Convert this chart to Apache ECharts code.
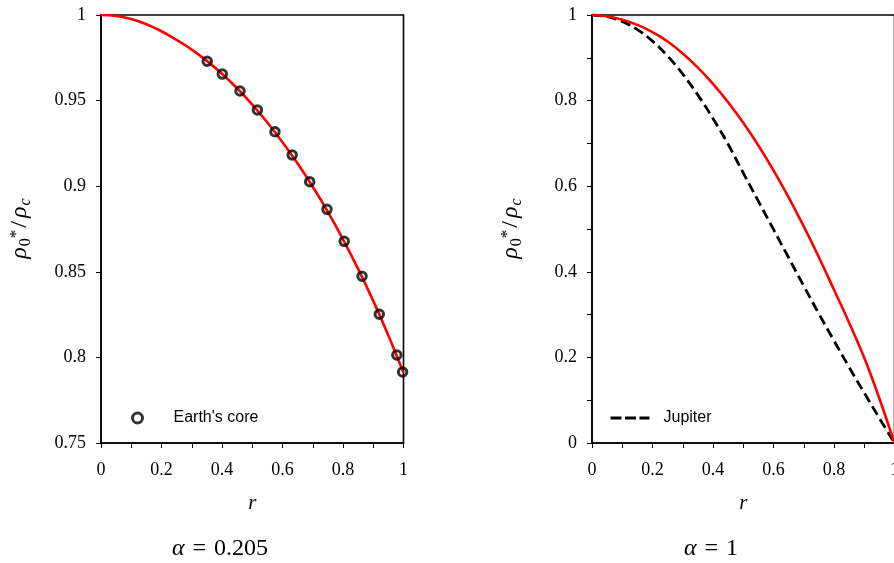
<!DOCTYPE html>
<html>
<head>
<meta charset="utf-8">
<script src="https://cdn.jsdelivr.net/npm/echarts@6/dist/echarts.min.js"></script>
<style>
html,body{margin:0;padding:0;background:#fff;}
#chart{width:894px;height:563px;}
</style>
</head>
<body>
<div id="chart"></div>
<script>
// ---- data ----
const rGrid = [0,0.05,0.1,0.15,0.2,0.25,0.3,0.35,0.4,0.45,0.5,0.55,0.6,0.65,0.7,0.75,0.8,0.85,0.9,0.95,1];
const earthModel = [1.000,0.9994,0.9976,0.9946,0.9905,0.9854,0.9798,0.9732,0.9657,0.9572,0.9477,0.9372,0.9257,0.9132,0.8997,0.8850,0.8690,0.8517,0.8330,0.8128,0.7910];
const earthCoreR = [0.351,0.401,0.4595,0.517,0.575,0.632,0.690,0.747,0.804,0.863,0.920,0.978,0.997];
const earthCoreV = [0.973,0.9655,0.9556,0.9445,0.9318,0.9182,0.9026,0.8865,0.8678,0.8474,0.8252,0.8014,0.7915];
const alphaOneModel = [1.000,0.997,0.989,0.977,0.960,0.938,0.910,0.877,0.839,0.796,0.748,0.695,0.637,0.574,0.506,0.434,0.358,0.281,0.199,0.104,0.000];
const jupiter = [1.000,0.996,0.985,0.966,0.939,0.904,0.862,0.813,0.758,0.698,0.631,0.565,0.499,0.433,0.367,0.302,0.239,0.177,0.117,0.058,0.000];
const xTicksInterval = 0.2;
const leftYRange = [0.75, 1, 0.05];
const rightYRange = [0, 1, 0.2];
const captions = ['0.205', '1'];

const pairs = (xs, ys) => xs.map((x, i) => [x, ys[i]]);

const serif = 'Liberation Serif';
const sans = 'Liberation Sans';

function xAxis(gi) {
  return {
    gridIndex: gi, type: 'value', min: 0, max: 1, interval: xTicksInterval,
    axisLine: {show: true, onZero: false, lineStyle: {color: '#000', width: 1.6}},
    axisTick: {show: true, inside: false, length: 5, lineStyle: {color: '#000', width: 1}},
    minorTick: {show: true, splitNumber: 2, length: 5, lineStyle: {color: '#000', width: 1}},
    splitLine: {show: false}, minorSplitLine: {show: false},
    axisLabel: {fontFamily: serif, fontSize: 18, color: '#000', margin: 18},
    name: 'r', nameLocation: 'middle', nameGap: 50,
    nameTextStyle: {fontFamily: serif, fontStyle: 'italic', fontSize: 21, color: '#000'}
  };
}
const yName = '{r|ρ}{s|0}{p|*}{n|/}{r|ρ}{c|c}';
const yRich = {
  r: {fontFamily: serif, fontStyle: 'italic', fontSize: 24, color: '#000', lineHeight: 34, verticalAlign: 'middle', padding: [0, 1, 0, 1]},
  n: {fontFamily: serif, fontSize: 24, color: '#000', lineHeight: 34, verticalAlign: 'middle', padding: [0, 2, 0, 2]},
  s: {fontFamily: serif, fontSize: 16, color: '#000', lineHeight: 34, verticalAlign: 'bottom', padding: [0, 0, 3, 0]},
  c: {fontFamily: serif, fontStyle: 'italic', fontSize: 16, color: '#000', lineHeight: 34, verticalAlign: 'bottom', padding: [0, 0, 3, 0]},
  p: {fontFamily: serif, fontSize: 17, color: '#000', lineHeight: 34, verticalAlign: 'top', padding: [5, 0, 0, 0]}
};
function yAxis(gi, range, minor) {
  return {
    gridIndex: gi, type: 'value', min: range[0], max: range[1], interval: range[2],
    axisLine: {show: true, onZero: false, lineStyle: {color: '#000', width: 1.6}},
    axisTick: {show: true, inside: false, length: 5, lineStyle: {color: '#000', width: 1}},
    minorTick: {show: minor, splitNumber: 2, length: 5, lineStyle: {color: '#000', width: 1}},
    splitLine: {show: false}, minorSplitLine: {show: false},
    axisLabel: {fontFamily: serif, fontSize: 18, color: '#000', margin: 15},
    name: yName, nameLocation: 'middle', nameRotate: 90, nameGap: 64,
    nameTextStyle: {rich: yRich}
  };
}

const chart = echarts.init(document.getElementById('chart'), null, {renderer: 'canvas'});
chart.setOption({
  animation: false,
  backgroundColor: '#fff',
  grid: [
    {left: 101, top: 15, width: 302.5, height: 428, show: true, borderColor: '#000', borderWidth: 1.6, containLabel: false, outerBoundsMode: 'none'},
    {left: 592, top: 15, width: 302.5, height: 428, show: true, borderColor: '#000', borderWidth: 1.6, containLabel: false, outerBoundsMode: 'none'}
  ],
  xAxis: [xAxis(0), xAxis(1)],
  yAxis: [yAxis(0, leftYRange, false), yAxis(1, rightYRange, true)],
  legend: [
    {
      data: ["Earth's core"], left: 131, top: 410, padding: 0, itemWidth: 10, itemHeight: 10,
      itemStyle: {color: 'rgba(255,255,255,0)', borderColor: '#000', borderWidth: 3},
      textStyle: {fontFamily: sans, fontSize: 16, color: '#000', padding: [0, 0, 0, 26]}
    },
    {
      data: ['Jupiter'], left: 609, top: 410, padding: 0, itemWidth: 39, itemHeight: 14,
      itemStyle: {color: 'rgba(0,0,0,0)', borderWidth: 0, opacity: 0},
      lineStyle: {color: '#000', width: 3, type: [11, 3.5], opacity: 1},
      textStyle: {fontFamily: sans, fontSize: 16, color: '#000', padding: [0, 0, 0, 9]}
    }
  ],
  series: [
    {
      name: 'model α=0.205', type: 'line', xAxisIndex: 0, yAxisIndex: 0,
      data: pairs(rGrid, earthModel), smooth: 0.4, showSymbol: false, symbol: 'none',
      lineStyle: {color: '#ff0000', width: 2.6}, z: 2
    },
    {
      name: "Earth's core", type: 'scatter', xAxisIndex: 0, yAxisIndex: 0,
      data: pairs(earthCoreR, earthCoreV), symbol: 'circle', symbolSize: 8.5,
      itemStyle: {color: 'rgba(255,255,255,0)', borderColor: '#000', borderWidth: 3}, z: 3
    },
    {
      name: 'Jupiter', type: 'line', xAxisIndex: 1, yAxisIndex: 1,
      data: pairs(rGrid, jupiter), smooth: 0.4, showSymbol: false, symbol: 'none',
      itemStyle: {color: '#000'},
      lineStyle: {color: '#000', width: 2.8, type: [10, 5]}, z: 2
    },
    {
      name: 'model α=1', type: 'line', xAxisIndex: 1, yAxisIndex: 1,
      data: pairs(rGrid, alphaOneModel), smooth: 0.4, showSymbol: false, symbol: 'none',
      lineStyle: {color: '#ff0000', width: 2.6}, z: 3
    }
  ],
  graphic: captions.map((c, i) => ({
    type: 'text', x: i === 0 ? 220 : 711, y: 549,
    style: {
      text: '{a|α}{e|=}' + c,
      align: 'center', verticalAlign: 'middle',
      fontFamily: serif, fontSize: 24, fill: '#000',
      rich: {
        a: {fontFamily: serif, fontStyle: 'italic', fontSize: 24},
        e: {fontFamily: serif, fontSize: 24, padding: [0, 8, 0, 8]}
      }
    }
  }))
});
</script>
</body>
</html>
